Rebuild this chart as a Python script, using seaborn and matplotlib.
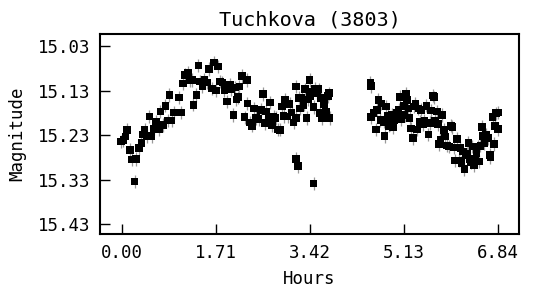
import matplotlib
matplotlib.use('Agg')
import matplotlib.pyplot as plt
import seaborn as sns
import pandas as pd

# first night block (hours, magnitude)
hours_a = [-0.018, 0.024, 0.061, 0.091, 0.146, 0.182, 0.231, 0.255, 0.310, 0.352,
           0.376, 0.413, 0.449, 0.498, 0.540, 0.583, 0.619, 0.668, 0.698, 0.747,
           0.789, 0.832, 0.862, 0.904, 0.941, 1.038, 1.074, 1.105, 1.147, 1.196,
           1.238, 1.275, 1.299, 1.354, 1.390, 1.420, 1.463, 1.499, 1.542, 1.584,
           1.633, 1.675, 1.712, 1.748, 1.785, 1.827, 1.863, 1.906, 1.961, 1.991,
           2.027, 2.058, 2.082, 2.106, 2.137, 2.185, 2.228, 2.270, 2.282, 2.319,
           2.361, 2.404, 2.440, 2.483, 2.525, 2.568, 2.604, 2.622, 2.665, 2.689,
           2.725, 2.756, 2.792, 2.835, 2.877, 2.908, 2.938, 2.968, 3.011, 3.047,
           3.084, 3.120, 3.162, 3.169, 3.211, 3.241, 3.266, 3.302, 3.326, 3.357,
           3.381, 3.411, 3.423, 3.454, 3.484, 3.502, 3.545, 3.575, 3.606, 3.618,
           3.642, 3.678, 3.715, 3.745, 3.769, 3.776, 3.162, 3.199, 3.484]
mag_a = [15.244, 15.241, 15.233, 15.218, 15.263, 15.285, 15.334, 15.284, 15.259, 15.248,
         15.229, 15.218, 15.232, 15.188, 15.232, 15.215, 15.200, 15.217, 15.177, 15.207,
         15.164, 15.197, 15.140, 15.197, 15.179, 15.146, 15.179, 15.114, 15.095, 15.090,
         15.106, 15.106, 15.162, 15.140, 15.074, 15.110, 15.120, 15.106, 15.112, 15.082,
         15.125, 15.067, 15.130, 15.076, 15.110, 15.112, 15.129, 15.155, 15.117, 15.127,
         15.185, 15.123, 15.150, 15.145, 15.121, 15.097, 15.190, 15.106, 15.159, 15.202,
         15.209, 15.170, 15.192, 15.194, 15.173, 15.138, 15.203, 15.177, 15.190, 15.157,
         15.207, 15.188, 15.192, 15.217, 15.218, 15.166, 15.187, 15.151, 15.188, 15.160,
         15.179, 15.202, 15.121, 15.192, 15.147, 15.170, 15.147, 15.162, 15.127, 15.192,
         15.150, 15.106, 15.142, 15.132, 15.167, 15.125, 15.135, 15.127, 15.181, 15.147,
         15.192, 15.160, 15.177, 15.142, 15.136, 15.192, 15.284, 15.300, 15.339]

# second block after the gap
hours_b = [4.516, 4.528, 4.528, 4.577, 4.619, 4.637, 4.662, 4.698, 4.716, 4.759,
           4.777, 4.801, 4.832, 4.850, 4.880, 4.905, 4.929, 4.953, 4.971, 5.002,
           5.032, 5.050, 5.081, 5.123, 5.141, 5.160, 5.184, 5.208, 5.232, 5.257,
           5.293, 5.305, 5.336, 5.366, 5.390, 5.414, 5.439, 5.475, 5.499, 5.536,
           5.572, 5.597, 5.621, 5.657, 5.669, 5.694, 5.730, 5.748, 5.767, 5.791,
           5.821, 5.851, 5.876, 5.912, 5.943, 5.985, 6.009, 6.034, 6.058, 6.094,
           6.125, 6.155, 6.173, 6.204, 6.228, 6.252, 6.276, 6.301, 6.325, 6.349,
           6.374, 6.398, 6.422, 6.446, 6.471, 6.495, 6.519, 6.550, 6.568, 6.592,
           6.617, 6.653, 6.689, 6.701, 6.738, 6.762, 6.786, 6.805, 6.835, 6.847]
mag_b = [15.112, 15.120, 15.190, 15.181, 15.217, 15.173, 15.151, 15.196, 15.159, 15.200,
         15.232, 15.166, 15.187, 15.209, 15.205, 15.185, 15.212, 15.196, 15.185, 15.181,
         15.173, 15.144, 15.194, 15.164, 15.185, 15.138, 15.151, 15.170, 15.192, 15.215,
         15.237, 15.166, 15.159, 15.217, 15.170, 15.200, 15.173, 15.205, 15.197, 15.164,
         15.229, 15.203, 15.175, 15.141, 15.145, 15.197, 15.177, 15.205, 15.250, 15.241,
         15.185, 15.218, 15.233, 15.253, 15.256, 15.209, 15.212, 15.258, 15.287, 15.239,
         15.287, 15.259, 15.293, 15.267, 15.306, 15.274, 15.271, 15.248, 15.284, 15.291,
         15.256, 15.297, 15.284, 15.271, 15.256, 15.289, 15.254, 15.212, 15.232, 15.248,
         15.229, 15.237, 15.274, 15.280, 15.190, 15.250, 15.209, 15.181, 15.216, 15.179]

mag_err = 0.015  # typical error bar half-length

x_ticks = [0.00, 1.71, 3.42, 5.13, 6.84]
y_ticks = [15.03, 15.13, 15.23, 15.33, 15.43]

df = pd.DataFrame({'hours': hours_a + hours_b, 'mag': mag_a + mag_b})

sns.set_theme(style='ticks')
plt.rcParams['font.family'] = ['DejaVu Sans Mono', 'DejaVu Sans']
plt.rcParams['text.color'] = 'black'
plt.rcParams['axes.labelcolor'] = 'black'
plt.rcParams['xtick.color'] = 'black'
plt.rcParams['ytick.color'] = 'black'

fig = plt.figure(figsize=(5.37, 2.91), dpi=100)
ax = fig.add_axes([0.1862, 0.1959, 0.7803, 0.6873])

ax.errorbar(df['hours'], df['mag'], yerr=mag_err, fmt='none',
            ecolor='#999999', elinewidth=0.9, capsize=0, zorder=1)
sns.scatterplot(data=df, x='hours', y='mag', marker='s', s=30, color='black',
                edgecolor='none', linewidth=0, ax=ax, zorder=2, legend=False)

ax.set_xlim(-0.40, 7.22)
ax.set_ylim(15.452, 15.003)
ax.set_xticks(x_ticks)
ax.set_xticklabels([f'{t:.2f}' for t in x_ticks])
ax.set_yticks(y_ticks)
ax.set_yticklabels([f'{t:.2f}' for t in y_ticks])
ax.tick_params(direction='in', length=7, width=1, labelsize=12.5, pad=7, color='black')
for s in ax.spines.values():
    s.set_linewidth(1.5)
    s.set_color('black')

ax.set_xlabel('Hours', fontsize=12.5, labelpad=6)
ax.set_ylabel('Magnitude', fontsize=12.5, labelpad=8)
ax.set_title('Tuchkova (3803)', fontsize=14.5, pad=6)

fig.savefig('out.png', dpi=100)
